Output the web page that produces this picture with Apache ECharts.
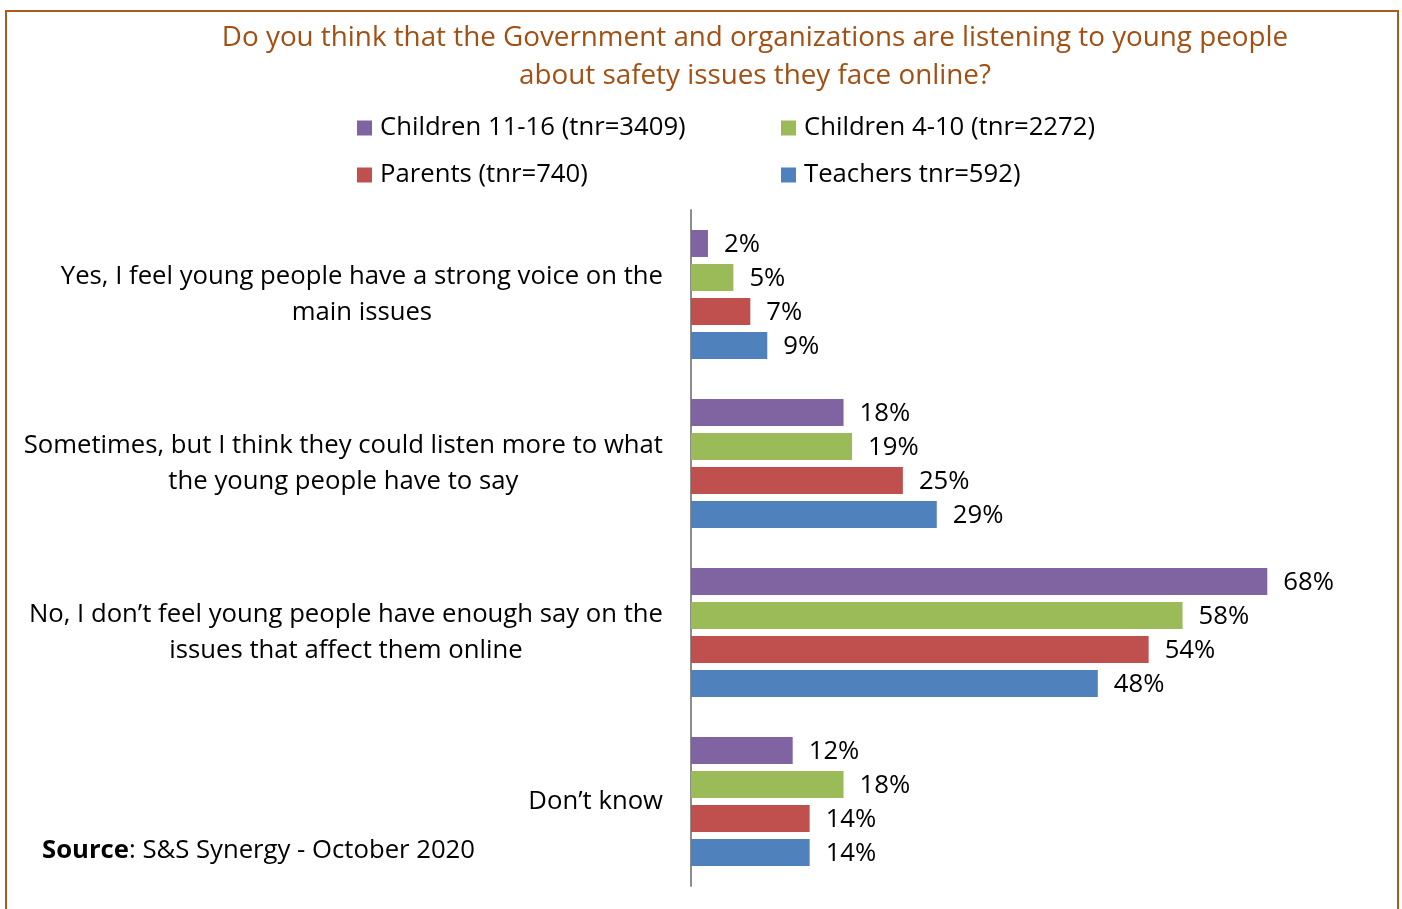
<!DOCTYPE html>
<html>
<head>
<meta charset="utf-8">
<script src="https://cdn.jsdelivr.net/npm/echarts@6/dist/echarts.min.js"></script>
<style>
  html, body { margin: 0; padding: 0; background: #fff; }
  #chart { width: 1402px; height: 909px; }
</style>
</head>
<body>
<div id="chart"></div>
<script>
// Survey answers (one per category row)
const categories = [
  "Yes, I feel young people have a strong voice on the\nmain issues",
  "Sometimes, but I think they could listen more to what\nthe young people have to say",
  "No, I don\u2019t feel young people have enough say on the\nissues that affect them online",
  "Don\u2019t know"
];

// Respondent groups
const groupNames = [
  "Children 11-16 (tnr=3409)",
  "Children 4-10 (tnr=2272)",
  "Parents (tnr=740)",
  "Teachers tnr=592)"
];

// Percentages per group, in category order
const children1116 = [2, 18, 68, 12];
const children410  = [5, 19, 58, 18];
const parents      = [7, 25, 54, 14];
const teachers     = [9, 29, 48, 14];

const groupValues = [children1116, children410, parents, teachers];
const groupColors = ["#8064A2", "#9BBB59", "#C0504D", "#4F81BD"];

const titleText = "Do you think that the Government and organizations are listening to young people\nabout safety issues they face online?";
const sourceLabel = "Source";
const sourceText = ": S&S Synergy - October 2020";

const FONT = "Open Sans";
const FS = 25.7;

const chart = echarts.init(document.getElementById("chart"), null, { renderer: "canvas" });

const series = groupNames.map((name, i) => ({
  name: name,
  type: "bar",
  data: groupValues[i],
  barWidth: 27,
  barGap: "26%",
  itemStyle: { color: groupColors[i] },
  label: {
    show: true,
    position: "right",
    distance: 16,
    offset: [0, 1],
    formatter: "{c}%",
    color: "#000",
    fontFamily: FONT,
    fontSize: FS
  }
}));

const legendCommon = {
  orient: "vertical",
  top: 115,
  padding: 0,
  itemWidth: 15,
  itemHeight: 15,
  itemGap: 21,
  icon: "rect",
  textStyle: { fontFamily: FONT, fontSize: FS, color: "#000", padding: [0, 0, 0, 3] }
};

chart.setOption({
  animation: false,
  backgroundColor: "#fff",
  title: {
    text: titleText,
    left: 750,
    top: 14,
    textAlign: "center",
    textStyle: {
      fontFamily: FONT,
      fontSize: 27.8,
      fontWeight: "normal",
      color: "#A24F13",
      lineHeight: 38
    }
  },
  legend: [
    Object.assign({}, legendCommon, { left: 357, data: [groupNames[0], groupNames[2]] }),
    Object.assign({}, legendCommon, { left: 781, data: [groupNames[1], groupNames[3]] })
  ],
  grid: { left: 691, top: 210, width: 678, height: 676, containLabel: false },
  xAxis: {
    type: "value",
    min: 0,
    max: 80,
    show: false
  },
  yAxis: {
    type: "category",
    inverse: true,
    data: categories,
    axisLine: { show: true, lineStyle: { color: "#8C8C8C", width: 2 } },
    axisTick: { show: false },
    axisLabel: {
      margin: 28,
      align: "right",
      fontFamily: FONT,
      fontSize: FS,
      color: "#000",
      lineHeight: 36,
      formatter: function (v) {
        return v.split("\n").map(l => "{c|" + l + "}").join("\n");
      },
      rich: {
        c: { align: "center", fontFamily: FONT, fontSize: FS, color: "#000", lineHeight: 36 }
      }
    }
  },
  series: series,
  graphic: [
    {
      type: "rect",
      shape: { x: 6, y: 11, width: 1392, height: 920 },
      style: { fill: null, stroke: "#A95B1F", lineWidth: 2 },
      silent: true,
      z: 100
    },
    {
      type: "text",
      left: 42,
      top: 838,
      style: {
        text: "{b|" + sourceLabel + "}{n|" + sourceText + "}",
        rich: {
          b: { fontFamily: FONT, fontSize: FS, fontWeight: "bold", fill: "#000" },
          n: { fontFamily: FONT, fontSize: FS, fill: "#000" }
        }
      }
    }
  ]
});
</script>
</body>
</html>
